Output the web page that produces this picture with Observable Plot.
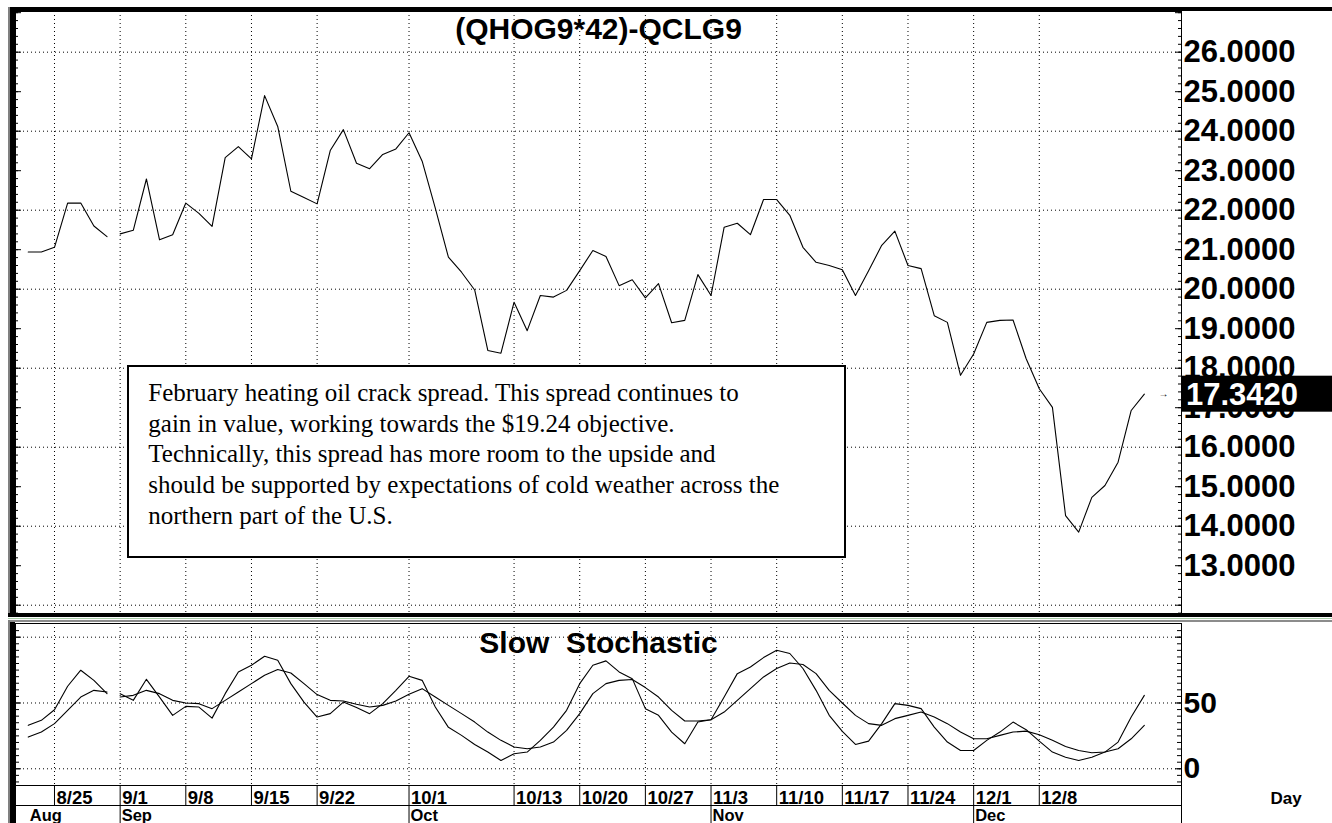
<!DOCTYPE html>
<html>
<head>
<meta charset="utf-8">
<script src="https://cdn.jsdelivr.net/npm/d3@7"></script>
<script src="https://cdn.jsdelivr.net/npm/@observablehq/plot@0.6"></script>
<style>
  html, body { margin: 0; padding: 0; background: #fff; width: 1332px; height: 823px; overflow: hidden; }
  #wrap { position: relative; width: 1332px; height: 823px; overflow: hidden; }
  .p { position: absolute; left: 0; }
  .p svg text { white-space: pre; }
  .bar { position: absolute; z-index: 5; }
  #note {
    position: absolute; z-index: 6; left: 127px; top: 365px; width: 719px; height: 193px;
    box-sizing: border-box; border: 2px solid #000; background: #fff;
    font-family: "Liberation Serif", "Times New Roman", serif; font-size: 25px; line-height: 30.8px;
    padding: 10.8px 0 0 19.3px; white-space: nowrap; color: #000;
  }
</style>
</head>
<body>
<div id="wrap">
  <div class="p" id="pA" style="top:0"></div>
  <div class="p" id="pB" style="top:618px"></div>
  <div class="p" id="pC" style="top:785px"></div>
  <div class="p" id="pD" style="top:805px"></div>
  <div id="note"></div>
</div>
<script>
// ---------- data ----------
const dates = ["8/21","8/22","8/25","8/26","8/27","8/28","8/29",
"9/1","9/2","9/3","9/4","9/5","9/8","9/9","9/10","9/11","9/12","9/15","9/16","9/17","9/18","9/19","9/22","9/23","9/24","9/25","9/26","9/29","9/30",
"10/1","10/2","10/3","10/6","10/7","10/8","10/9","10/10","10/13","10/14","10/15","10/16","10/17","10/20","10/21","10/22","10/23","10/24","10/27","10/28","10/29","10/30","10/31",
"11/3","11/4","11/5","11/6","11/7","11/10","11/11","11/12","11/13","11/14","11/17","11/18","11/19","11/20","11/21","11/24","11/25","11/26","11/27","11/28",
"12/1","12/2","12/3","12/4","12/5","12/8","12/9","12/10","12/11","12/12","12/15","12/16","12/17","12/18"];

const spread = [20.94,20.94,21.06,22.18,22.18,21.60,21.33,
21.40,21.49,22.79,21.25,21.38,22.18,21.92,21.59,23.33,23.61,23.30,24.90,24.12,22.48,22.32,22.16,23.51,24.04,23.19,23.05,23.41,23.55,
23.96,23.24,22.05,20.81,20.43,19.98,18.45,18.38,19.67,18.95,19.84,19.80,19.97,20.47,20.98,20.83,20.09,20.24,19.78,20.14,19.15,19.21,20.37,
19.84,21.57,21.67,21.38,22.27,22.27,21.87,21.06,20.68,20.60,20.49,19.84,20.47,21.11,21.47,20.60,20.52,19.33,19.16,17.82,
18.36,19.16,19.21,19.22,18.24,17.48,17.01,14.27,13.85,14.73,15.03,15.62,16.93,17.342];

const stochK = [33.0,36.8,44.9,62.7,74.9,67.2,57.1,
57.1,52.0,68.0,54.5,40.6,47.4,46.9,38.5,57.1,73.6,78.7,85.5,82.5,64.7,50.7,39.3,41.9,50.7,46.5,41.9,49.5,59.6,
70.3,67.2,46.9,31.5,25.4,18.5,12.7,6.3,11.4,12.7,21.6,31.7,44.4,64.7,78.7,82.0,73.6,68.5,45.7,40.6,27.9,19.0,35.5,
37.3,54.5,72.3,77.4,84.5,90.1,87.6,76.2,59.6,40.6,28.5,18.5,21.0,34.3,49.5,48.2,45.7,31.7,20.3,13.9,
13.9,21.6,27.9,35.5,29.7,21.0,12.7,8.8,6.3,8.8,12.7,20.3,39.3,55.8];

const stochD = [24.1,27.9,34.3,44.4,54.5,59.6,58.3,
54.5,55.8,59.6,57.1,52.0,50.0,49.5,45.7,52.0,58.3,64.7,71.1,75.4,72.8,64.7,56.4,52.0,51.5,49.0,46.9,48.2,51.5,
56.6,60.9,54.5,48.2,41.9,35.5,27.9,21.6,16.5,15.2,16.5,20.3,29.2,41.9,57.1,64.7,67.2,67.8,61.7,54.5,44.4,36.3,36.3,
37.3,43.1,52.0,60.9,69.8,76.2,80.4,79.2,72.3,59.6,50.0,40.6,34.3,33.0,38.1,40.6,43.1,39.3,34.3,27.9,
22.8,22.8,25.4,27.9,28.6,25.9,21.6,17.0,13.9,12.2,12.7,15.2,22.8,33.0];

const dayTickLabels = ["8/25","9/1","9/8","9/15","9/22","10/1","10/13","10/20","10/27","11/3","11/10","11/17","11/24","12/1","12/8"];
const monthLabels = ["Aug","Sep","Oct","Nov","Dec"];
const monthStarts = ["8/21","9/1","10/1","11/3","12/1"];
const lineBreakBefore = "9/1";   // data gap between 8/29 and 9/1

const mainLabels = [13,14,15,16,17,18,19,20,21,22,23,24,25,26];
const mainGrid = [12,14,16,18,20,22,24,26];
const stochLabels = [0,50];
const stochGrid = [0,50,100];

const title = "(QHOG9*42)-QCLG9";
const stochTitle = "Slow  Stochastic";
const noteLines = [
  "February heating oil crack spread. This spread continues to",
  "gain in value, working towards the $19.24 objective.",
  "Technically, this spread has more room to the upside and",
  "should be supported by expectations of cold weather across the",
  "northern part of the U.S."
];

// ---------- derived tables ----------
const breakIdx = dates.indexOf(lineBreakBefore);
const mainData = spread.map((v, i) => ({i, v, seg: i < breakIdx ? 0 : 1}));
const kData = stochK.map((v, i) => ({i, v, seg: i < breakIdx ? 0 : 1}));
const dData = stochD.map((v, i) => ({i, v, seg: i < breakIdx ? 0 : 1}));
const dayTicks = dayTickLabels.map(l => ({i: dates.indexOf(l), label: l}));
const tickIdx = dayTicks.map(d => d.i);
const months = monthLabels.map((l, k) => ({i: dates.indexOf(monthStarts[k]), label: l}));
const monthSep = months.slice(1).map(d => d.i);
const last = mainData[mainData.length - 1];

const mainMinor = d3.range(59, 136).map(k => k / 5);
const mainMajor = d3.range(12, 28);
const stochMinor = d3.range(-10, 110, 5);
const stochMajor = [0, 50, 100];

// ---------- layout ----------
const W = 1332, mL = 15, mR = 151;
const FW = W - mL - mR;
const xScale = {type: "linear", domain: [-0.97, 87.83], axis: null};
const font = "'Liberation Sans', Arial, Helvetica, sans-serif";
const baseStyle = {fontFamily: font, color: "#000", background: "transparent", overflow: "visible"};
const dotted = {stroke: "#000", strokeOpacity: 1, strokeWidth: 1, strokeDasharray: "1,3"};
const tk = {stroke: "#000", strokeWidth: 1};

function sideTicks(vals, len) {
  return [
    Plot.tickY(vals, {y: d => d, insetRight: FW - len, ...tk}),
    Plot.tickY(vals, {y: d => d, insetLeft: FW - len, ...tk})
  ];
}

// ---------- main panel ----------
const chartA = Plot.plot({
  width: W, height: 618, marginLeft: mL, marginRight: mR, marginTop: 11, marginBottom: 4,
  x: xScale,
  y: {domain: [11.765, 27.03]},
  style: baseStyle,
  marks: [
    Plot.gridY(mainGrid, dotted),
    Plot.gridX(tickIdx, dotted),
    ...sideTicks(mainMinor, 3),
    ...sideTicks(mainMajor, 6),
    Plot.frame({stroke: "#000"}),
    Plot.line(mainData, {x: "i", y: "v", z: "seg", stroke: "#000", strokeWidth: 1.1}),
    Plot.axisY(mainLabels, {anchor: "right", tickSize: 0, tickPadding: 2, tickFormat: d3.format(".4f"),
      fontSize: 31, fontWeight: "bold", fill: "#000", label: null}),
    Plot.text([title], {frameAnchor: "top", lineAnchor: "middle", dy: 17.5, fontSize: 30, fontWeight: "bold", fill: "#000"}),
    Plot.text([last], {y: "v", frameAnchor: "right", dx: -13, text: () => "→", fontSize: 10, fill: "#000"})
  ]
});
document.getElementById("pA").appendChild(chartA);

// last value box (placed through the plot's own y scale)
{
  const svg = d3.select(chartA.tagName.toLowerCase() === "svg" ? chartA : chartA.querySelector("svg"));
  const yy = chartA.scale("y").apply(last.v);
  svg.append("rect").attr("x", W - mR).attr("y", yy - 18).attr("width", mR).attr("height", 36).attr("fill", "#000");
  svg.append("text").attr("x", W - mR + 5).attr("y", yy).attr("dy", "0.36em")
    .attr("text-anchor", "start")
    .attr("fill", "#fff").attr("font-size", 31).attr("font-weight", "bold").attr("font-family", font)
    .text(d3.format(".4f")(last.v));
}

// ---------- stochastic panel ----------
const chartB = Plot.plot({
  width: W, height: 167, marginLeft: mL, marginRight: mR, marginTop: 5, marginBottom: 0,
  x: xScale,
  y: {domain: [-12.7, 110.4]},
  style: baseStyle,
  marks: [
    Plot.gridY(stochGrid, dotted),
    Plot.gridX(tickIdx, dotted),
    ...sideTicks(stochMinor, 4),
    ...sideTicks(stochMajor, 6),
    Plot.frame({stroke: "#000"}),
    Plot.line(dData, {x: "i", y: "v", z: "seg", stroke: "#000", strokeWidth: 1.1}),
    Plot.line(kData, {x: "i", y: "v", z: "seg", stroke: "#000", strokeWidth: 1.1}),
    Plot.axisY(stochLabels, {anchor: "right", tickSize: 0, tickPadding: 2,
      fontSize: 30, fontWeight: "bold", fill: "#000", label: null}),
    Plot.text([stochTitle], {frameAnchor: "top", lineAnchor: "middle", dy: 20, fontSize: 30, fontWeight: "bold", fill: "#000"})
  ]
});
document.getElementById("pB").appendChild(chartB);

// ---------- day label row ----------
const chartC = Plot.plot({
  width: W, height: 20, marginLeft: mL, marginRight: mR, marginTop: 0, marginBottom: 0,
  x: xScale,
  style: baseStyle,
  marks: [
    Plot.frame({stroke: "#000"}),
    Plot.ruleX(tickIdx, {stroke: "#000"}),
    Plot.text(dayTicks, {x: "i", text: "label", textAnchor: "start", dx: 2, dy: 2.4,
      fontSize: 18.5, fontWeight: "bold", fill: "#000", letterSpacing: "0.4px"}),
    Plot.text(["Day"], {frameAnchor: "right", dx: 89, dy: 2.9, textAnchor: "start",
      fontSize: 17, fontWeight: "bold", fill: "#000"})
  ]
});
document.getElementById("pC").appendChild(chartC);

// ---------- month label row ----------
const chartD = Plot.plot({
  width: W, height: 19, marginLeft: mL, marginRight: mR, marginTop: 0, marginBottom: 0,
  x: xScale,
  style: baseStyle,
  marks: [
    Plot.frame({stroke: "#000"}),
    Plot.ruleX(monthSep, {stroke: "#000"}),
    Plot.text(months, {x: "i", text: "label", textAnchor: "start", dx: 1.5, dy: 0.6,
      fontSize: 16.5, fontWeight: "bold", fill: "#000", letterSpacing: "0.8px"})
  ]
});
document.getElementById("pD").appendChild(chartD);

// ---------- annotation ----------
document.getElementById("note").innerHTML = noteLines.map(s => s.replace(/&/g, "&amp;")).join("<br>");

// ---------- panel borders ----------
const wrap = document.getElementById("wrap");
[
  [8, 7, 1324, 4, "#000"],      // top edge
  [8, 7, 2, 610, "#808080"],    // left outer edge (top panel)
  [10, 7, 5, 610, "#000"],      // left edge (top panel)
  [8, 613, 1324, 4, "#000"],    // bottom edge of top panel
  [8, 618, 1324, 1, "#a8cca8"], // separator
  [8, 620, 1324, 2, "#8c8c8c"], // top edge of lower panel
  [8, 620, 2, 203, "#808080"],  // left outer edge (lower)
  [10, 622, 5, 201, "#000"]     // left edge (lower)
].forEach(([l, t, w, h, c]) => {
  const d = document.createElement("div");
  d.className = "bar";
  d.style.cssText = `left:${l}px;top:${t}px;width:${w}px;height:${h}px;background:${c};`;
  wrap.appendChild(d);
});
</script>
</body>
</html>
